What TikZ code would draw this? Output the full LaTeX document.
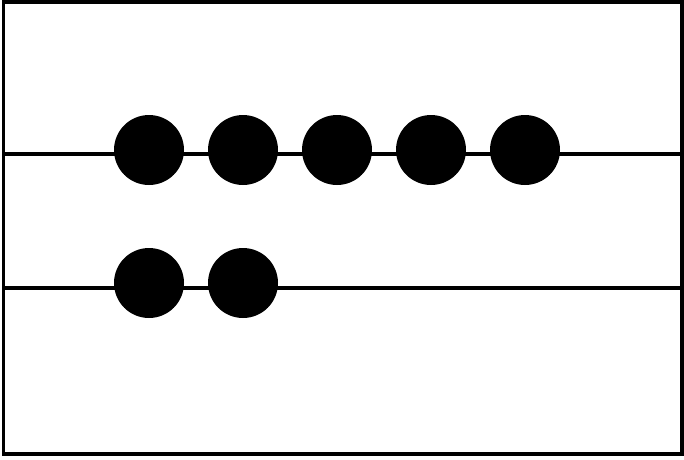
\documentclass[tikz,border=0pt]{standalone}
\begin{document}
\begin{tikzpicture}[x=1pt,y=-1pt,line width=3.5pt,
    bead/.style={circle,fill=black,inner sep=0pt,minimum size=70pt}]
          \useasboundingbox (0,0) rectangle (684,459);
          \draw (3.5,2) rectangle (682,454);

          \coordinate (topl) at (3.5,154);
          \coordinate (topr) at (682,154);
          \coordinate (botl) at (3.5,288);
          \coordinate (botr) at (682,288);
          \draw (topl) -- (topr);
          \draw (botl) -- (botr);

          \node[bead] (t1) at (149,150) {};
          \node[bead] (t2) at (243,150) {};
          \node[bead] (t3) at (337,150) {};
          \node[bead] (t4) at (431,150) {};
          \node[bead] (t5) at (525,150) {};

          \node[bead] (b1) at (149,283) {};
          \node[bead] (b2) at (243,283) {};
        \end{tikzpicture}
\end{document}
